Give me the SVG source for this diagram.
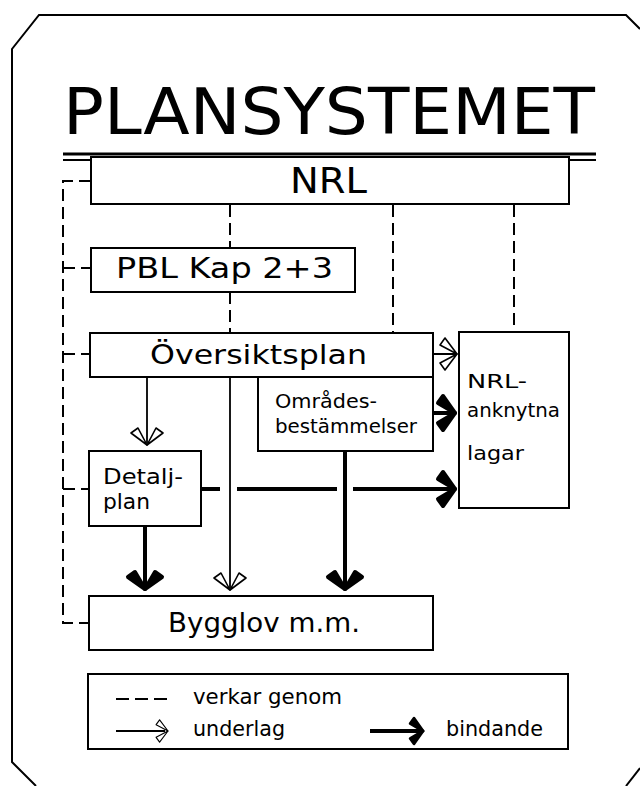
<svg xmlns="http://www.w3.org/2000/svg" xmlns:xlink="http://www.w3.org/1999/xlink" width="640" height="786" viewBox="0 0 640 786">
<style>
.t{font-family:"DejaVu Sans","Liberation Sans",sans-serif;fill:#000}
.box{fill:#fff;stroke:#000;stroke-width:2}
.dash{fill:none;stroke:#000;stroke-width:2;stroke-dasharray:12 6}
.thin{fill:none;stroke:#000;stroke-width:1.8}
.thick{fill:none;stroke:#000;stroke-width:4}
.frame{fill:none;stroke:#000;stroke-width:2}
</style>
<defs>
<g id="ao">
<polygon points="0,0 -17,-9 -12,-16" fill="#fff" stroke="#000" stroke-width="1.6" stroke-linejoin="round"/>
<polygon points="0,0 -17,9 -12,16" fill="#fff" stroke="#000" stroke-width="1.6" stroke-linejoin="round"/>
</g>
<g id="ab">
<polygon points="0,0 -17,-10 -12,-17" fill="#000" stroke="#000" stroke-width="4" stroke-linejoin="round"/>
<polygon points="0,0 -17,10 -12,17" fill="#000" stroke="#000" stroke-width="4" stroke-linejoin="round"/>
</g>
</defs>
<rect width="640" height="786" fill="#fff"/>
<g id="frame">
<path class="frame" d="M640,29 L626,15 H39 L12,49 V762 L36,786"/>
<path class="frame" d="M640,768 L626,786"/>
</g>
<g id="title">
<text class="t" x="63" y="134" font-size="64" textLength="532" lengthAdjust="spacingAndGlyphs">PLANSYSTEMET</text>
<line x1="63" y1="154" x2="596" y2="154" stroke="#000" stroke-width="3"/>
<line x1="63" y1="160" x2="596" y2="160" stroke="#000" stroke-width="2"/>
</g>
<g id="connectors">
<path class="dash" d="M91,181 H63 V623 H89"/>
<path class="dash" d="M63,268 H91 M63,354 H90 M63,489 H89"/>
<path class="dash" d="M230,205 V248 M230,292 V333 M393,205 V332 M514,205 V332"/>
<path class="thin" d="M147,377 V443 M230,377 V588 M433,354 H455"/>
<path class="thick" d="M145,526 V586 M345,451 V586 M433,413 H452 M201,489 H220 M237,489 H337 M353,489 H452"/>
<use xlink:href="#ao" transform="translate(147,445) rotate(90)"/>
<use xlink:href="#ao" transform="translate(230,590) rotate(90)"/>
<use xlink:href="#ao" transform="translate(457,354)"/>
<use xlink:href="#ab" transform="translate(145,589) rotate(90)"/>
<use xlink:href="#ab" transform="translate(345,589) rotate(90)"/>
<use xlink:href="#ab" transform="translate(455,413)"/>
<use xlink:href="#ab" transform="translate(455,489)"/>
</g>
<g id="nrl">
<rect class="box" x="91" y="157" width="478" height="47"/>
<text class="t" x="290" y="193" font-size="35" textLength="77" lengthAdjust="spacingAndGlyphs">NRL</text>
</g>
<g id="pbl">
<rect class="box" x="91" y="248" width="264" height="44"/>
<text class="t" x="116" y="278" font-size="28" textLength="217" lengthAdjust="spacingAndGlyphs">PBL Kap 2+3</text>
</g>
<g id="oversiktsplan">
<rect class="box" x="90" y="333" width="343" height="44" stroke-width="3.5"/>
<text class="t" x="150" y="364" font-size="27" textLength="217" lengthAdjust="spacingAndGlyphs">Översiktsplan</text>
</g>
<g id="omradesbestammelser">
<rect class="box" x="258" y="377" width="175" height="74" stroke-width="2.5"/>
<text class="t" x="275" y="408" font-size="20" textLength="102" lengthAdjust="spacingAndGlyphs">Områdes-</text>
<text class="t" x="275" y="433" font-size="20" textLength="142" lengthAdjust="spacingAndGlyphs">bestämmelser</text>
</g>
<g id="nrl-anknytna">
<rect class="box" x="459" y="332" width="110" height="176" stroke-width="3"/>
<text class="t" x="467" y="388" font-size="20" textLength="60" lengthAdjust="spacingAndGlyphs">NRL-</text>
<text class="t" x="467" y="417" font-size="20" textLength="93" lengthAdjust="spacingAndGlyphs">anknytna</text>
<text class="t" x="467" y="460" font-size="20" textLength="57" lengthAdjust="spacingAndGlyphs">lagar</text>
</g>
<g id="detaljplan">
<rect class="box" x="89" y="451" width="112" height="75" stroke-width="3"/>
<text class="t" x="103" y="484" font-size="21" textLength="80" lengthAdjust="spacingAndGlyphs">Detalj-</text>
<text class="t" x="103" y="509" font-size="21" textLength="47" lengthAdjust="spacingAndGlyphs">plan</text>
</g>
<g id="bygglov">
<rect class="box" x="89" y="596" width="344" height="54" stroke-width="2.5"/>
<text class="t" x="168" y="632" font-size="26" textLength="192" lengthAdjust="spacingAndGlyphs">Bygglov m.m.</text>
</g>
<g id="legend">
<rect class="box" x="88" y="674" width="480" height="75" stroke-width="2.5"/>
<line x1="116" y1="699" x2="168" y2="699" stroke="#000" stroke-width="2" stroke-dasharray="13 6"/>
<text class="t" x="193" y="704" font-size="21" textLength="149" lengthAdjust="spacingAndGlyphs">verkar genom</text>
<line class="thin" x1="116" y1="731" x2="165" y2="731"/>
<use xlink:href="#ao" transform="translate(168,731) scale(0.7)"/>
<text class="t" x="193" y="736" font-size="21" textLength="92" lengthAdjust="spacingAndGlyphs">underlag</text>
<line class="thick" x1="370" y1="731" x2="420" y2="731" stroke-width="3.5"/>
<use xlink:href="#ab" transform="translate(423,731) scale(0.75)"/>
<text class="t" x="446" y="736" font-size="21" textLength="97" lengthAdjust="spacingAndGlyphs">bindande</text>
</g>
</svg>
